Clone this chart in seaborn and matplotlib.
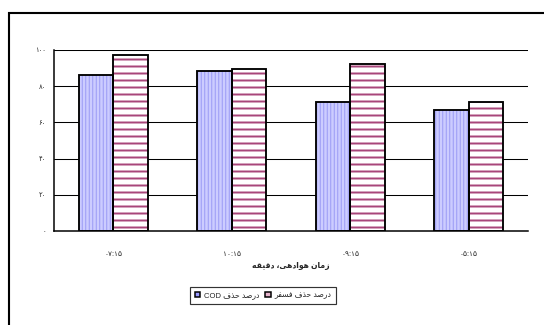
import pandas as pd
import seaborn as sns
import matplotlib.pyplot as plt
from matplotlib.patches import Rectangle, Patch

# Aeration times (category labels) and removal percentages
times = ["۰۷:۱۵", "۱۰:۱۵", "۰۹:۱۵", "۰۵:۱۵"]
cod_removal = [86.2, 88.4, 71.4, 66.7]
phosphorus_removal = [97.1, 89.7, 92.3, 71.4]
y_ticks = [0, 20, 40, 60, 80, 100]
y_tick_labels = ["۰", "۲۰", "۴۰", "۶۰", "۸۰", "۱۰۰"]

# Persian strings written with Arabic presentation forms in visual
# (left-to-right) order, since matplotlib does not shape or reorder RTL text.
W_DARSAD = "\ufeaa\ufebb\ufead\ufea9"          # درصد
W_HAZF = "\ufed1\ufeac\ufea3"                  # حذف
W_FOSFOR = "\ufeae\ufed4\ufeb4\ufed3"          # فسفر
W_ZAMAN = "\ufee5\ufe8e\ufee3\ufeaf"           # زمان
W_HAVADEHI = "\ufbfd\ufeeb\ufea9\ufe8d\ufeee\ufeeb"  # هوادهی
W_DAGHIGHE = "\ufeea\ufed8\ufbff\ufed7\ufea9"  # دقیقه

label_cod = "COD " + W_HAZF + " " + W_DARSAD
label_p = W_FOSFOR + " " + W_HAZF + " " + W_DARSAD
x_title = W_DAGHIGHE + " \u060c" + W_HAVADEHI + " " + W_ZAMAN

df = pd.DataFrame({
    "time": times * 2,
    "value": cod_removal + phosphorus_removal,
    "series": [label_cod] * len(times) + [label_p] * len(times),
})

sns.set_theme(style="white")
plt.rcParams["font.family"] = ["Liberation Sans", "DejaVu Sans"]
plt.rcParams["hatch.linewidth"] = 1.0

DPI = 84
fig = plt.figure(figsize=(544 / DPI, 325 / DPI), dpi=DPI)
fig.patch.set_facecolor("white")
ax = fig.add_axes([54 / 544, 1 - 231 / 325, (528 - 54) / 544, (231 - 50) / 325])

blue_face, blue_hatch = "#ccccff", "#9898f4"
pink_face, pink_hatch = "#ffffff", "#a8467a"

sns.barplot(data=df, x="time", y="value", hue="series", order=times,
            hue_order=[label_cod, label_p], palette=[blue_face, pink_face],
            width=0.58, saturation=1, legend=False, ax=ax, zorder=2)

styles = [(blue_face, blue_hatch, "||||", 0.8), (pink_face, pink_hatch, "--", 1.7)]
for container, (face, hcol, hatch, hlw) in zip(ax.containers, styles):
    for bar in container:
        bar.set_facecolor(face)
        bar.set_edgecolor(hcol)
        bar.set_hatch(hatch)
        bar.set_linewidth(0)
        if hasattr(bar, "set_hatch_linewidth"):
            bar.set_hatch_linewidth(hlw)
        ax.add_patch(Rectangle(bar.get_xy(), bar.get_width(), bar.get_height(),
                               fill=False, edgecolor="black", linewidth=1.6, zorder=3))

ax.set_ylim(0, 100)
ax.set_xlim(-0.5, len(times) - 0.5)
ax.set_yticks(y_ticks)
ax.set_yticklabels(y_tick_labels, fontsize=5.8)
ax.set_xticks(range(len(times)))
ax.set_xticklabels(times, fontsize=6.3)
ax.set_xticks([i - 0.5 for i in range(len(times) + 1)], minor=True)
ax.tick_params(axis="x", which="major", length=0, pad=17)
ax.tick_params(axis="x", which="minor", length=3, width=1.2, direction="out", color="black")
ax.tick_params(axis="y", length=3, width=1.2, direction="out", color="black", pad=4)
ax.set_xlabel(x_title, fontsize=6.5, fontweight="bold", labelpad=4)
ax.set_ylabel("")

ax.yaxis.grid(True, color="black", linewidth=0.9)
ax.xaxis.grid(False)
ax.set_axisbelow(True)
for side in ("top", "right"):
    ax.spines[side].set_visible(False)
for side in ("left", "bottom"):
    ax.spines[side].set_color("black")
    ax.spines[side].set_linewidth(1.3)

handles = [Patch(facecolor="#9999ff", edgecolor="black", linewidth=1.3),
           Patch(facecolor="#e6b3cc", edgecolor="black", linewidth=1.3)]
leg = fig.legend(handles, [label_cod, label_p], ncol=2, loc="center",
                 bbox_to_anchor=(263 / 544, 1 - 295.5 / 325), fontsize=6.5,
                 frameon=True, fancybox=False, edgecolor="black",
                 handlelength=0.75, handleheight=0.75, handletextpad=0.5,
                 columnspacing=0.7, borderpad=0.6)
leg.get_frame().set_linewidth(1.0)

# Outer chart-area border, open to the right and bottom edges
fig.add_artist(Rectangle((9 / 544, -0.1), 1.2, 1.1 - 12.5 / 325, transform=fig.transFigure,
                         fill=False, edgecolor="black", linewidth=1.8))

fig.savefig("out.png", dpi=DPI, facecolor="white")
